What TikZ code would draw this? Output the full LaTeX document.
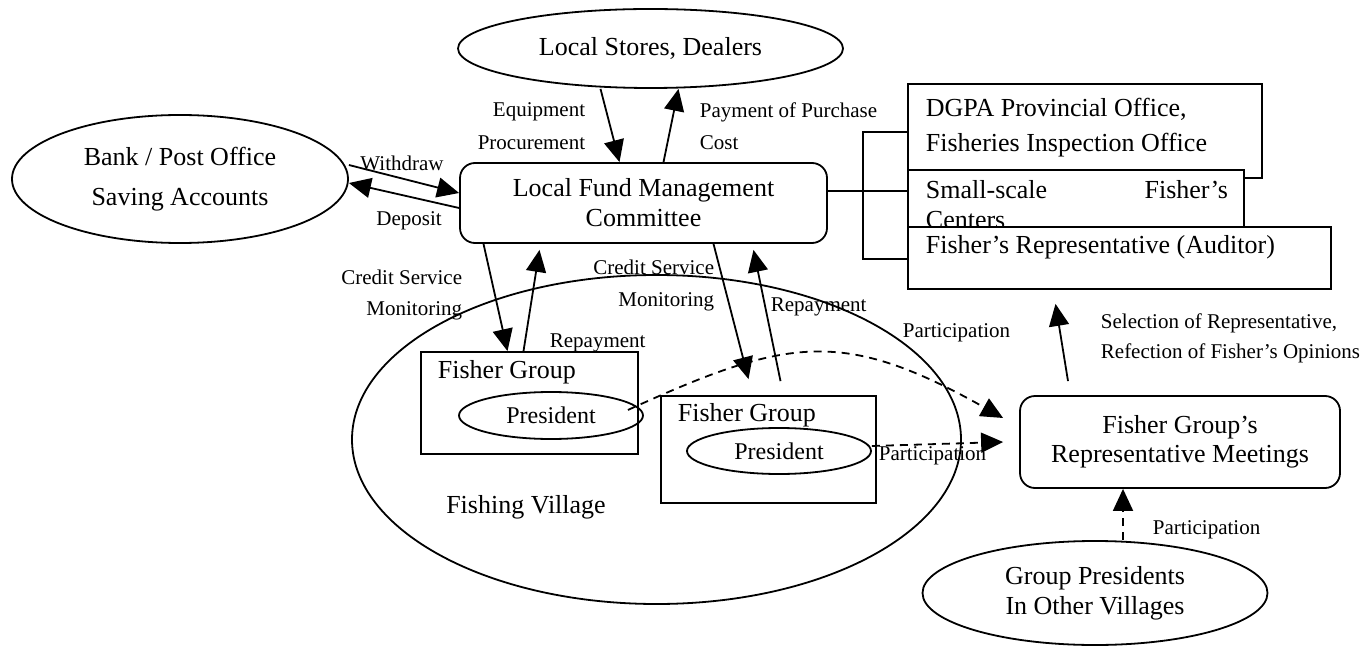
\documentclass[tikz,border=0pt]{standalone}
\usepackage{fontspec}
\setmainfont{Liberation Serif}
\usetikzlibrary{shapes.geometric,arrows.meta}
\begin{document}
\begin{tikzpicture}[x=0.5pt,y=-0.5pt,line width=0.9pt,
  every node/.style={inner sep=0pt},
  oval/.style={draw,ellipse,align=center,font=\fontsize{13}{15}\selectfont},
  rbox/.style={draw,rounded corners=7.5pt,align=center,font=\fontsize{13}{15}\selectfont},
  sbox/.style={draw,fill=white,rectangle},
  btxt/.style={align=left,font=\fontsize{13}{15}\selectfont},
  lbl/.style={align=left,font=\fontsize{10.5}{13}\selectfont},
  flow/.style={-{Triangle[length=11pt,width=10pt]}},
  dflow/.style={flow,dash pattern=on 4pt off 3pt}]
\useasboundingbox (0,0) rectangle (1368,646);

% outer actors
\node[oval,minimum width=168pt,minimum height=64pt,font=\fontsize{13}{20}\selectfont] (bank) at (180,179) {Bank / Post Office\\Saving Accounts};
\node[oval,minimum width=192.5pt,minimum height=39.5pt] (stores) at (650.5,48.5) {Local Stores, Dealers};
\node[rbox,minimum width=183.5pt,minimum height=40pt] (lfmc) at (643.5,203) {Local Fund Management\\Committee};

% stacked supervising bodies
\node[sbox,minimum width=177pt,minimum height=47pt] (dgpa) at (1085,131) {};
\node[btxt,anchor=west,font=\fontsize{13}{17.5}\selectfont] (dgpatxt) at (925,127.5) {DGPA Provincial Office,\\Fisheries Inspection Office};
\node[sbox,minimum width=168pt,minimum height=28.5pt] (small) at (1076,198.5) {};
\node[btxt,anchor=west,text width=151pt] (smalltxt) at (925,205) {Small-scale\hfill Fisher’s\\Centers};
\node[sbox,minimum width=211.5pt,minimum height=31pt] (auditor) at (1119.5,258) {};
\node[btxt,anchor=west] (auditortxt) at (925,247) {Fisher’s Representative (Auditor)};

% bracket joining the committee to the bodies
\coordinate (brtop) at (863,132);
\coordinate (brmid) at (863,191);
\coordinate (brbot) at (863,259);
\draw (dgpa.west |- brtop) -- (brtop) -- (brbot) -- (auditor.west |- brbot);
\draw (lfmc.east |- brmid) -- (small.west |- brmid);

% fishing village with its groups
\node[draw,ellipse,minimum width=304.5pt,minimum height=164.5pt] (village) at (656.5,439.5) {};
\node[btxt] (villagetxt) at (526,507) {Fishing Village};
\node[sbox,minimum width=108.5pt,minimum height=51pt] (fg1) at (529.5,403) {};
\node[btxt,anchor=west] (fg1txt) at (437,372) {Fisher Group};
\node[draw,ellipse,minimum width=92pt,minimum height=23.5pt,font=\fontsize{12}{14}\selectfont] (pres1) at (551,415.5) {President};
\node[sbox,minimum width=107.5pt,minimum height=53.5pt] (fg2) at (768.5,449.5) {};
\node[btxt,anchor=west] (fg2txt) at (677,415) {Fisher Group};
\node[draw,ellipse,minimum width=92pt,minimum height=23pt,font=\fontsize{12}{14}\selectfont] (pres2) at (779,451) {President};

% representatives
\node[rbox,minimum width=160pt,minimum height=46pt,font=\fontsize{13}{14.5}\selectfont] (rep) at (1180,442) {Fisher Group’s\\Representative Meetings};
\node[oval,minimum width=172.5pt,minimum height=52pt] (gp) at (1095,593) {Group Presidents\\In Other Villages};

% flows
\draw[flow] ([xshift=-25pt]stores.south) -- ([xshift=-12pt]lfmc.north);
\draw[flow] ([xshift=10pt]lfmc.north) -- ([xshift=14pt]stores.south);
\draw[flow] ([yshift=7pt]bank.east) -- ([yshift=5pt]lfmc.west);
\draw[flow] ([yshift=-2.5pt]lfmc.west) -- ([yshift=-2pt]bank.east);
\draw[flow] ([xshift=-80pt]lfmc.south) -- ([xshift=-11pt]fg1.north);
\draw[flow] ([xshift=-3pt]fg1.north) -- ([xshift=-52pt,yshift=-3pt]lfmc.south);
\draw[flow] ([xshift=35pt]lfmc.south) -- ([xshift=-10pt,yshift=8pt]fg2.north);
\draw[flow] ([xshift=6pt,yshift=7pt]fg2.north) -- ([xshift=55pt,yshift=-3pt]lfmc.south);
\draw[flow] ([xshift=-56pt,yshift=7pt]rep.north) -- ([xshift=-32pt,yshift=-7pt]auditor.south);
\draw[dflow] ([xshift=14pt]gp.north) -- ([xshift=-28.5pt]rep.south);
\draw[dflow] ([yshift=2.5pt]pres2.east) -- ([xshift=-8pt]rep.west);
\draw[dflow] ([xshift=-8pt,yshift=2.75pt]pres1.east) .. controls +(160,-73) and +(-160,-90) .. ([xshift=-8pt,yshift=12pt]rep.west);

% flow labels
\node[lbl,anchor=east,align=right,font=\fontsize{10.5}{16.5}\selectfont] (lblequip) at (586,126.5) {Equipment\\Procurement};
\node[lbl,anchor=west,font=\fontsize{10.5}{16}\selectfont] (lblpay) at (699,126) {Payment of Purchase\\Cost};
\node[lbl] (lblwd) at (402,163) {Withdraw};
\node[lbl] (lbldep) at (409,221) {Deposit};
\node[lbl,anchor=east,align=right,font=\fontsize{10.5}{15.5}\selectfont] (lblcs1) at (463,294.5) {Credit Service\\Monitoring};
\node[lbl,anchor=west] (lblrep1) at (549,343) {Repayment};
\node[lbl,anchor=east,align=right,font=\fontsize{10.5}{16}\selectfont] (lblcs2) at (715,285) {Credit Service\\Monitoring};
\node[lbl,anchor=west] (lblrep2) at (770,307) {Repayment};
\node[lbl,anchor=west] (lblpart1) at (902,333) {Participation};
\node[lbl,anchor=west] (lblpart2) at (878,456) {Participation};
\node[lbl,anchor=west,font=\fontsize{10.5}{15}\selectfont] (lblsel) at (1100,338) {Selection of Representative,\\Refection of Fisher’s Opinions};
\node[lbl,anchor=west] (lblpart3) at (1152,530) {Participation};
\end{tikzpicture}
\end{document}
